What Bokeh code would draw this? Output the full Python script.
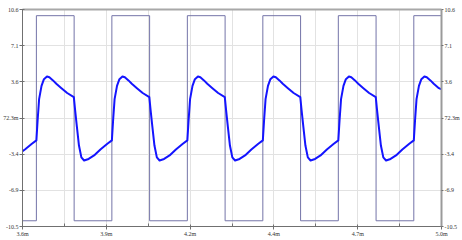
from bokeh.plotting import figure
from bokeh.models import LinearAxis, FixedTicker
from bokeh.embed import file_html
from bokeh.resources import INLINE

# x in milliseconds (axis labels carry the "m" suffix)
x_ticks = [3.6, 3.8775, 4.1551, 4.4326, 4.7102, 4.9877]
x_tick_labels = ["3.6m", "3.9m", "4.2m", "4.4m", "4.7m", "5.0m"]
x_minor = [3.7388, 4.0163, 4.2939, 4.5714, 4.8490]

y_ticks = [-10.455, -6.946, -3.437, 0.0723, 3.581, 7.09, 10.6]
y_tick_labels = ["-10.5", "-6.9", "-3.4", "72.3m", "3.6", "7.1", "10.6"]

# square wave (input)
square_t = [3.600, 3.646, 3.646, 3.771, 3.771, 3.896, 3.896, 4.021, 4.021, 4.146,
            4.146, 4.271, 4.271, 4.396, 4.396, 4.521, 4.521, 4.646, 4.646, 4.771,
            4.771, 4.896, 4.896, 4.988]
square_v = [-9.9, -9.9, 10.0, 10.0, -9.9, -9.9, 10.0, 10.0, -9.9, -9.9,
            10.0, 10.0, -9.9, -9.9, 10.0, 10.0, -9.9, -9.9, 10.0, 10.0,
            -9.9, -9.9, 10.0, 10.0]

# blue response curve
blue_t = [3.600, 3.608, 3.631,
          3.646, 3.650, 3.655, 3.663, 3.671, 3.681, 3.689, 3.701, 3.712, 3.729, 3.748,
          3.770, 3.774, 3.780, 3.787, 3.795, 3.804, 3.819, 3.837, 3.858, 3.881,
          3.896, 3.900, 3.905, 3.913, 3.921, 3.931, 3.939, 3.951, 3.962, 3.979, 3.998,
          4.020, 4.024, 4.030, 4.037, 4.045, 4.054, 4.069, 4.087, 4.108, 4.131,
          4.146, 4.150, 4.155, 4.163, 4.171, 4.181, 4.189, 4.201, 4.212, 4.229, 4.248,
          4.270, 4.274, 4.280, 4.287, 4.295, 4.304, 4.319, 4.337, 4.358, 4.381,
          4.396, 4.400, 4.405, 4.413, 4.421, 4.431, 4.439, 4.451, 4.462, 4.479, 4.498,
          4.520, 4.524, 4.530, 4.537, 4.545, 4.554, 4.569, 4.587, 4.608, 4.631,
          4.646, 4.650, 4.655, 4.663, 4.671, 4.681, 4.689, 4.701, 4.712, 4.729, 4.748,
          4.770, 4.774, 4.780, 4.787, 4.795, 4.804, 4.819, 4.837, 4.858, 4.881,
          4.896, 4.900, 4.905, 4.913, 4.921, 4.931, 4.939, 4.951, 4.962, 4.979, 4.988]
blue_v = [-3.15, -2.98, -2.43,
          -2.10, -0.20, 1.90, 3.19, 3.84, 4.10, 4.02, 3.72, 3.40, 2.97, 2.50,
          2.10, 0.90, -0.75, -2.60, -3.75, -4.05, -3.90, -3.56, -2.98, -2.43,
          -2.10, -0.20, 1.90, 3.19, 3.84, 4.10, 4.02, 3.72, 3.40, 2.97, 2.50,
          2.10, 0.90, -0.75, -2.60, -3.75, -4.05, -3.90, -3.56, -2.98, -2.43,
          -2.10, -0.20, 1.90, 3.19, 3.84, 4.10, 4.02, 3.72, 3.40, 2.97, 2.50,
          2.10, 0.90, -0.75, -2.60, -3.75, -4.05, -3.90, -3.56, -2.98, -2.43,
          -2.10, -0.20, 1.90, 3.19, 3.84, 4.10, 4.02, 3.72, 3.40, 2.97, 2.50,
          2.10, 0.90, -0.75, -2.60, -3.75, -4.05, -3.90, -3.56, -2.98, -2.43,
          -2.10, -0.20, 1.90, 3.19, 3.84, 4.10, 4.02, 3.72, 3.40, 2.97, 2.50,
          2.10, 0.90, -0.75, -2.60, -3.75, -4.05, -3.90, -3.56, -2.98, -2.43,
          -2.10, -0.20, 1.90, 3.19, 3.84, 4.10, 4.02, 3.72, 3.40, 2.97, 2.85]

FONT = "Liberation Serif"
FS = "6px"
LABEL_COLOR = "#333333"

p = figure(width=462, height=240, x_range=(x_ticks[0], x_ticks[-1]),
           y_range=(y_ticks[0], y_ticks[-1]), output_backend="svg",
           toolbar_location=None, min_border_left=21, min_border_right=20,
           min_border_top=9, min_border_bottom=14)
p.background_fill_color = "white"
p.border_fill_color = "white"
p.outline_line_color = None

xt = FixedTicker(ticks=x_ticks, minor_ticks=x_minor)
yt = FixedTicker(ticks=y_ticks, minor_ticks=[])
xl = {t: l for t, l in zip(x_ticks, x_tick_labels)}
yl = {t: l for t, l in zip(y_ticks, y_tick_labels)}

p.xaxis.ticker = xt
p.xaxis.major_label_overrides = xl
p.yaxis.ticker = yt
p.yaxis.major_label_overrides = yl

p.xgrid.ticker = xt
p.ygrid.ticker = yt
p.xgrid.grid_line_color = "#e2e2e2"
p.xgrid.minor_grid_line_color = "#e2e2e2"
p.ygrid.grid_line_color = "#e2e2e2"

for ax in (p.xaxis[0], p.yaxis[0]):
    ax.major_label_text_font = FONT
    ax.major_label_text_font_size = FS
    ax.major_label_text_color = LABEL_COLOR
    ax.axis_line_color = "#707070"
    ax.major_tick_line_color = "#707070"
    ax.minor_tick_line_color = "#707070"
    ax.major_tick_in = 2
    ax.major_tick_out = 3
    ax.major_label_standoff = 1

p.xaxis.minor_tick_in = 3
p.xaxis.minor_tick_out = 0

p.yaxis.minor_tick_in = 0
p.yaxis.minor_tick_out = 0

right = LinearAxis(ticker=yt, major_label_overrides=yl)
right.major_label_text_font = FONT
right.major_label_text_font_size = FS
right.major_label_text_color = LABEL_COLOR
right.axis_line_color = "#9a9a9a"
right.axis_line_width = 2
right.major_tick_line_color = "#707070"
right.major_tick_in = 0
right.major_tick_out = 2
right.minor_tick_in = 0
right.minor_tick_out = 0
right.major_label_standoff = 1
p.add_layout(right, "right")

top = LinearAxis(ticker=FixedTicker(ticks=[]))
top.axis_line_color = "#a8a8a8"
top.axis_line_width = 2
top.major_tick_in = 0
top.major_tick_out = 0
top.minor_tick_in = 0
top.minor_tick_out = 0
p.add_layout(top, "above")

p.line(square_t, square_v, line_color="#7474a8", line_width=1)
p.line(blue_t, blue_v, line_color="#1414ff", line_width=2, line_join="round")

open("out.html", "w").write(file_html(p, INLINE))
